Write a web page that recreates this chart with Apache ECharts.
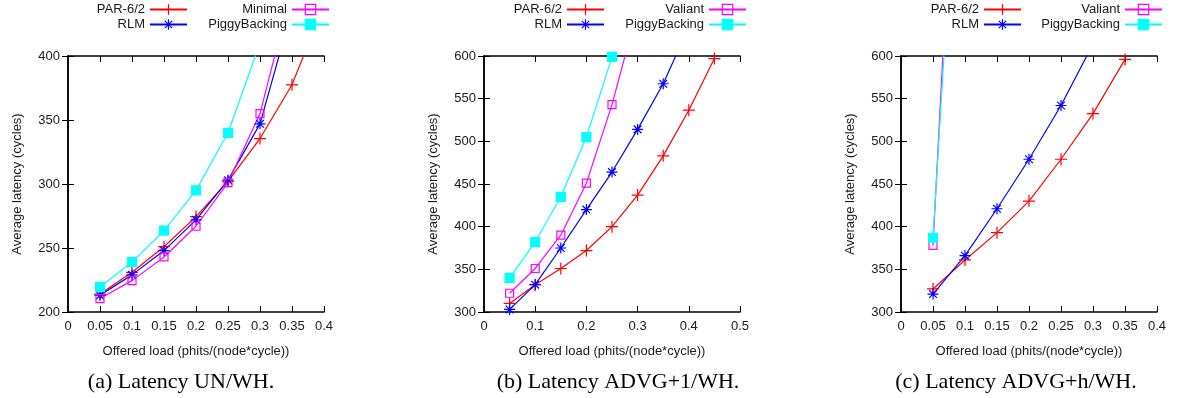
<!DOCTYPE html>
<html>
<head>
<meta charset="utf-8">
<script src="https://cdn.jsdelivr.net/npm/echarts@6/dist/echarts.min.js"></script>
<style>
  html, body { margin: 0; padding: 0; background: #fff; }
  #chart { width: 1177px; height: 398px; }
</style>
</head>
<body>
<div id="chart"></div>
<script>
// Offered load (x) values for each panel
const loadA = [0.05, 0.10, 0.15, 0.20, 0.25, 0.30, 0.35, 0.40];
const loadB = [0.05, 0.10, 0.15, 0.20, 0.25, 0.30, 0.35, 0.40, 0.45];
const loadC = [0.05, 0.10, 0.15, 0.20, 0.25, 0.30, 0.35];

// (a) Latency UN/WH.
const parA     = [214, 231, 251, 274.5, 302, 335.5, 377.5, 440];
const rlmA     = [213, 229, 248, 272, 303, 347, 436];
const minimalA = [210.5, 224.5, 243, 267, 301, 355, 453];
const piggyA   = [219.5, 239, 263.5, 295, 340, 410];

// (b) Latency ADVG+1/WH.
const parB     = [310, 332, 351, 372, 400, 437, 483, 536.5, 597];
const rlmB     = [303, 332, 375, 420, 464, 514, 567.5, 634];
const valiantB = [322, 351, 390, 451, 543, 655];
const piggyB   = [340, 382, 435, 505, 599];

// (c) Latency ADVG+h/WH.
const parC     = [327, 361, 393, 430, 479, 532.5, 596];
const rlmC     = [321, 366, 421, 479, 542, 614];
const valiantC = [378, 1100];
const piggyC   = [387, 1010];

// Axis tick settings
const xMaxes = [0.4, 0.5, 0.4];
const xSteps = [0.05, 0.1, 0.05];
const yMins  = [200, 300, 300];
const yMaxes = [400, 600, 600];
const ySteps = [50, 50, 50];

const captions = ['(a) Latency UN/WH.', '(b) Latency ADVG+1/WH.', '(c) Latency ADVG+h/WH.'];
const xTitle = 'Offered load (phits/(node*cycle))';
const yTitle = 'Average latency (cycles)';

const TXT = '#1a1a1a';
const FONT = 'Liberation Sans, Arial, sans-serif';

const PLUS = 'path://M0,5H10M5,0V10';
const STAR = 'path://M0,5H10M5,0V10M1.5,1.5L8.5,8.5M8.5,1.5L1.5,8.5';
const OPEN_SQ = 'path://M0,0H10V10H0Z';

const styles = {
  par:   { color: '#ff0000', symbol: PLUS, size: 12, fill: '#ff0000' },
  rlm:   { color: '#0000ff', symbol: STAR, size: 11, fill: '#0000ff' },
  mag:   { color: '#ff00ff', symbol: OPEN_SQ, size: 8, fill: 'rgba(0,0,0,0)' },
  piggy: { color: '#00ffff', symbol: 'rect', size: 9, fill: '#00ffff' }
};

function pairs(xs, ys) {
  return ys.map((y, i) => [xs[i], y]);
}

function makeSeries(name, st, xs, ys, idx) {
  return {
    type: 'line',
    name: name,
    xAxisIndex: idx * 2,
    yAxisIndex: idx * 2,
    data: pairs(xs, ys),
    symbol: st.symbol,
    symbolSize: st.size,
    showAllSymbol: true,
    clip: true,
    animation: false,
    lineStyle: { color: st.color, width: 1.2 },
    itemStyle: { color: st.fill, borderColor: st.color, borderWidth: 1.2 },
    emphasis: { disabled: true }
  };
}

const gridLefts = [68, 484, 901];
const grids = gridLefts.map(l => ({ left: l, top: 56, width: 256, height: 256 }));

const xAxes = [];
const yAxes = [];
grids.forEach((g, i) => {
  const tick = { show: true, inside: true, length: 6, lineStyle: { color: '#000', width: 1 } };
  const line = { show: true, lineStyle: { color: '#000', width: 1.5 } };
  xAxes.push({
    type: 'value', gridIndex: i, position: 'bottom', min: 0, max: xMaxes[i], interval: xSteps[i],
    axisLine: line, axisTick: tick, splitLine: { show: false },
    axisLabel: { margin: 8, fontSize: 13, color: TXT, fontFamily: FONT },
    name: xTitle, nameLocation: 'middle', nameGap: 33,
    nameTextStyle: { fontSize: 13, color: TXT, fontFamily: FONT }
  });
  xAxes.push({
    type: 'value', gridIndex: i, position: 'top', min: 0, max: xMaxes[i], interval: xSteps[i],
    axisLine: line, axisTick: tick, splitLine: { show: false }, axisLabel: { show: false }
  });
  yAxes.push({
    type: 'value', gridIndex: i, position: 'left', min: yMins[i], max: yMaxes[i], interval: ySteps[i],
    axisLine: line, axisTick: tick, splitLine: { show: false },
    axisLabel: { margin: 8, fontSize: 13, color: TXT, fontFamily: FONT },
    name: yTitle, nameLocation: 'middle', nameGap: 44, nameRotate: 90,
    nameTextStyle: { fontSize: 13, color: TXT, fontFamily: FONT }
  });
  yAxes.push({
    type: 'value', gridIndex: i, position: 'right', min: yMins[i], max: yMaxes[i], interval: ySteps[i],
    axisLine: line, axisTick: tick, splitLine: { show: false }, axisLabel: { show: false }
  });
});

const series = [
  makeSeries('PAR-6/2', styles.par, loadA, parA, 0),
  makeSeries('RLM', styles.rlm, loadA, rlmA, 0),
  makeSeries('Minimal', styles.mag, loadA, minimalA, 0),
  makeSeries('PiggyBacking', styles.piggy, loadA, piggyA, 0),

  makeSeries('PAR-6/2', styles.par, loadB, parB, 1),
  makeSeries('RLM', styles.rlm, loadB, rlmB, 1),
  makeSeries('Valiant', styles.mag, loadB, valiantB, 1),
  makeSeries('PiggyBacking', styles.piggy, loadB, piggyB, 1),

  makeSeries('PAR-6/2', styles.par, loadC, parC, 2),
  makeSeries('RLM', styles.rlm, loadC, rlmC, 2),
  makeSeries('Valiant', styles.mag, loadC, valiantC, 2),
  makeSeries('PiggyBacking', styles.piggy, loadC, piggyC, 2)
];

// Two right-aligned legend columns above each panel
function legendCol(names, right) {
  return {
    data: names, orient: 'vertical', align: 'right', right: right, top: 3, padding: 0,
    itemWidth: 37, itemHeight: 13, itemGap: 2, selectedMode: false,
    itemStyle: { borderWidth: 1.2 },
    textStyle: { fontSize: 13, color: TXT, fontFamily: FONT }
  };
}
const legends = [
  legendCol(['PAR-6/2', 'RLM'], 989),
  legendCol(['Minimal', 'PiggyBacking'], 847),
  legendCol(['PAR-6/2', 'RLM'], 572),
  legendCol(['Valiant', 'PiggyBacking'], 430),
  legendCol(['PAR-6/2', 'RLM'], 155),
  legendCol(['Valiant', 'PiggyBacking'], 14)
];

const captionCenters = [181, 618, 1016];
const graphics = captions.map((t, i) => ({
  type: 'text', x: captionCenters[i], y: 382,
  style: { text: t, align: 'center', verticalAlign: 'middle', fontSize: 22,
           fontFamily: 'Liberation Serif, Times New Roman, serif', fill: '#000' }
}));

const chart = echarts.init(document.getElementById('chart'), null, { renderer: 'canvas' });
chart.setOption({
  animation: false,
  backgroundColor: '#fff',
  textStyle: { fontFamily: FONT },
  grid: grids,
  xAxis: xAxes,
  yAxis: yAxes,
  legend: legends,
  series: series,
  graphic: graphics
});
</script>
</body>
</html>
